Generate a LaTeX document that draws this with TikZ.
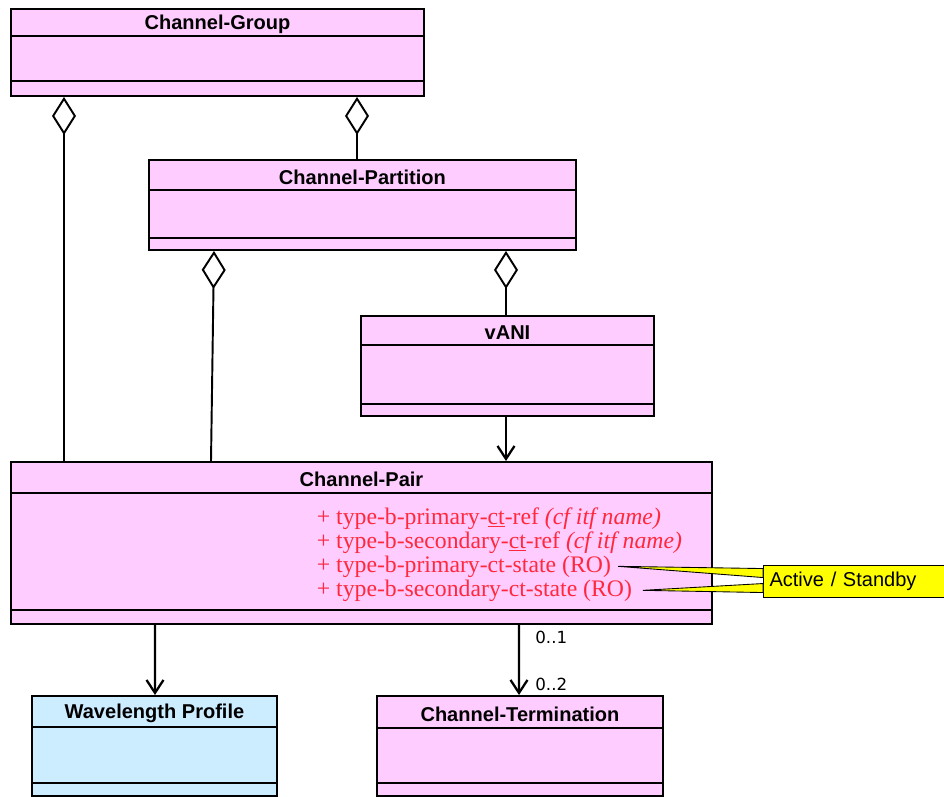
\documentclass[tikz,border=0pt]{standalone}
\usepackage{fontspec}
\setmainfont{Liberation Serif}
\setsansfont{Liberation Sans}
\newfontfamily\multfont{DejaVu Sans}
\usepackage{tikz}
\usetikzlibrary{positioning,calc,arrows.meta}
\definecolor{classpink}{RGB}{255,204,255}
\definecolor{classblue}{RGB}{204,236,255}
\definecolor{attrred}{RGB}{255,40,60}
\definecolor{noteyellow}{RGB}{255,255,0}
\tikzset{
  classbox/.style  = {draw, line width=1.1pt, rectangle, inner sep=0pt},
  classline/.style = {line width=1.1pt},
  classtitle/.style = {font=\sffamily\bfseries\fontsize{11.4}{13}\selectfont,
                   yshift=-1.5pt},
  attr/.style   = {anchor=base west, text=attrred, inner sep=2pt,
                   font=\fontsize{13.5}{14}\selectfont},
  aggr/.style   = {line width=1.1pt, -{Diamond[open, length=0.76cm, width=0.48cm]}},
  assoc/.style  = {line width=1.3pt, -{Straight Barb[length=0.26cm, width=0.34cm]}},
  mult/.style   = {anchor=base west, inner sep=0pt,
                   font=\multfont\fontsize{9.5}{10}\selectfont},
  notebox/.style = {draw, fill=noteyellow, line width=0.6pt, text width=3.8cm,
                   align=left, inner xsep=0.12cm, minimum height=0.64cm,
                   font=\sffamily\fontsize{11.4}{13}\selectfont},
  wedge/.style  = {fill=noteyellow, draw=black, line width=0.5pt}
}
% name, north west corner, width, height, header, footer, fill, title
\newcommand{\umlclass}[8]{%
  \node[classbox, fill=#7, minimum width=#3cm, minimum height=#4cm,
        anchor=north west] (#1) at (#2) {};
  \draw[classline] ([yshift=-#5cm]#1.north west) -- ([yshift=-#5cm]#1.north east);
  \draw[classline] ([yshift=#6cm]#1.south west) -- ([yshift=#6cm]#1.south east);
  \node[classtitle] (#1title) at ($(#1.north)+(0,-#5/2)$) {#8};
}
\begin{document}
\begin{tikzpicture}
  \useasboundingbox (0,0) rectangle (18.88,-15.92);
  \clip (0,0) rectangle (18.88,-15.92);

  % classes
  \umlclass{group}{0.2,-0.16}{8.26}{1.74}{0.56}{0.32}{classpink}{Channel-Group}
  \umlclass{partition}{2.96,-3.18}{8.54}{1.80}{0.62}{0.26}{classpink}{Channel-Partition}
  \umlclass{vani}{7.2,-6.30}{5.86}{2.0}{0.6}{0.26}{classpink}{vANI}
  \umlclass{pair}{0.2,-9.22}{14.02}{3.24}{0.64}{0.30}{classpink}{Channel-Pair}
  \umlclass{wlprof}{0.62,-13.9}{4.9}{2.0}{0.64}{0.28}{classblue}{Wavelength Profile}
  \umlclass{term}{7.52,-13.9}{5.72}{2.0}{0.66}{0.28}{classpink}{Channel-Termination}

  % attributes of Channel-Pair
  \foreach \n/\txt/\yy in {
      1/{+ type-b-primary-\underline{ct}-ref \textit{(cf itf name)}}/-10.48,
      2/{+ type-b-secondary-\underline{ct}-ref \textit{(cf itf name)}}/-10.96,
      3/{+ type-b-primary-ct-state (RO)}/-11.44,
      4/{+ type-b-secondary-ct-state (RO)}/-11.92}
    \node[attr] (attr\n) at (6.26,\yy) {\txt};

  % aggregations
  \draw[aggr] ($(pair.north west)+(1.08,0)$) -- ($(group.south west)+(1.08,0)$);
  \draw[aggr] ($(partition.north west)+(4.18,0)$) -- ($(group.south west)+(6.94,0)$);
  \draw[aggr] ($(pair.north west)+(4.02,0)$) -- ($(partition.south west)+(1.32,0)$);
  \draw[aggr] ($(vani.north west)+(2.92,0)$) -- ($(partition.south west)+(7.16,0)$);

  % associations
  \draw[assoc] ($(vani.south west)+(2.92,0)$) -- ($(pair.north west)+(9.92,0)$);
  \draw[assoc] ($(pair.south west)+(2.90,0)$) -- ($(wlprof.north west)+(2.48,0)$);
  \draw[assoc] ($(pair.south west)+(10.18,0)$) -- ($(term.north west)+(2.86,0)$);
  \node[mult] (mult1) at (10.7,-12.86) {0..1};
  \node[mult] (mult2) at (10.7,-13.80) {0..2};

  % note
  \node[notebox, anchor=north west] (note) at (15.26,-11.30) {Active / Standby};
  \filldraw[wedge] ([xshift=2pt]attr3.east) -- ($(note.west)+(0,0.26)$)
    -- ($(note.west)+(0,0.08)$) -- cycle;
  \filldraw[wedge] ([xshift=4pt]attr4.east) -- ($(note.west)+(0,-0.04)$)
    -- ($(note.west)+(0,-0.22)$) -- cycle;
\end{tikzpicture}
\end{document}
